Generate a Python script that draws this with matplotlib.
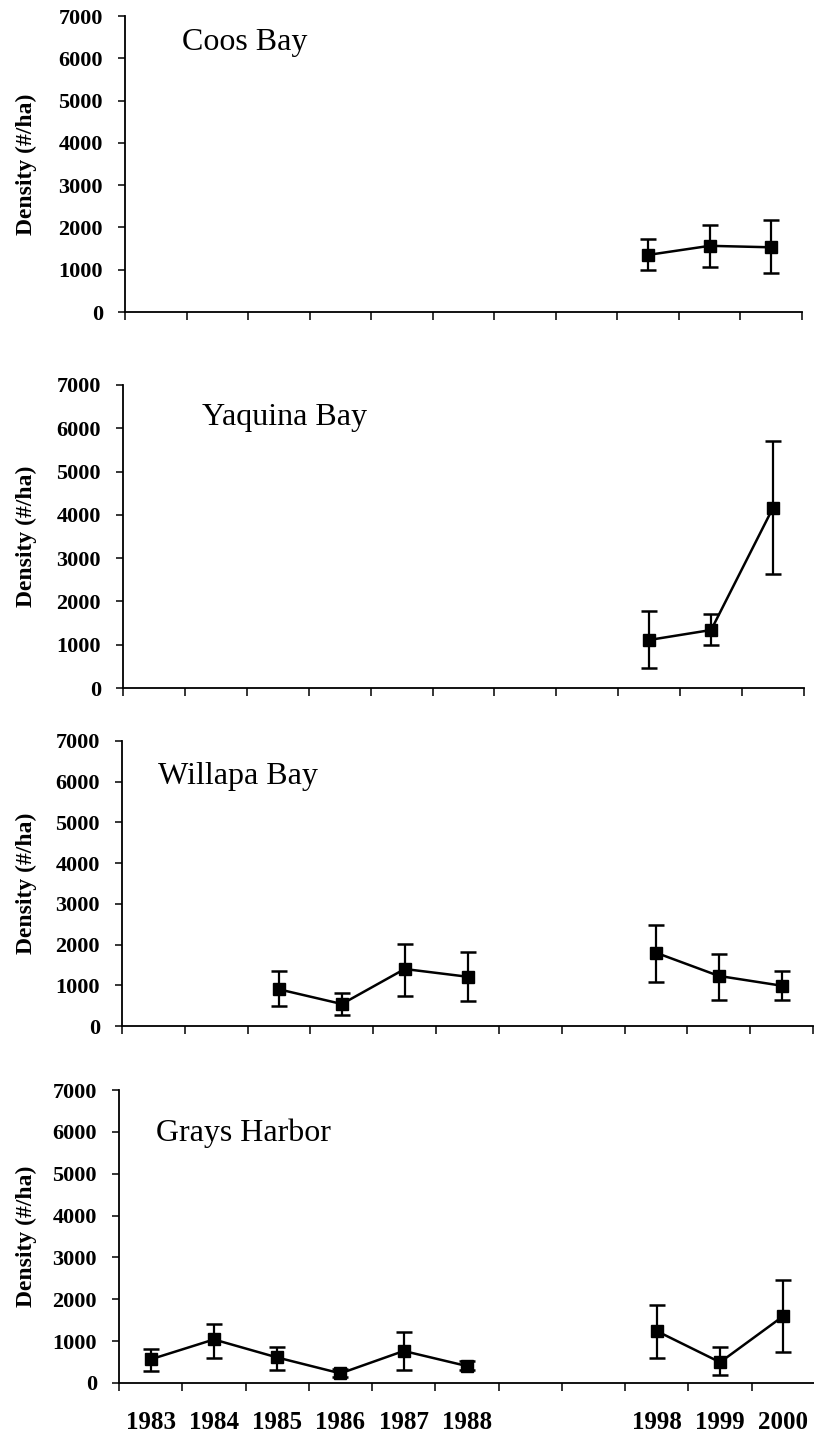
import numpy as np
import matplotlib
matplotlib.use("Agg")
import matplotlib.pyplot as plt

plt.rcParams['font.family'] = ['Liberation Serif', 'DejaVu Serif']

# category axis: 1983-1988, two empty slots, 1998-2000
categories = ['1983', '1984', '1985', '1986', '1987', '1988', '', '', '1998', '1999', '2000']

sites = ['Coos Bay', 'Yaquina Bay', 'Willapa Bay', 'Grays Harbor']

coos_years = ['1998', '1999', '2000']
coos_mean = [1350, 1565, 1530]
coos_low = [995, 1070, 930]
coos_high = [1725, 2050, 2175]

yaquina_years = ['1998', '1999', '2000']
yaquina_mean = [1110, 1340, 4165]
yaquina_low = [470, 995, 2630]
yaquina_high = [1775, 1710, 5700]

willapa_years = ['1985', '1986', '1987', '1988', '1998', '1999', '2000']
willapa_mean = [900, 540, 1400, 1210, 1800, 1230, 990]
willapa_low = [490, 270, 745, 620, 1090, 640, 640]
willapa_high = [1360, 800, 2005, 1825, 2480, 1760, 1360]

grays_years = ['1983', '1984', '1985', '1986', '1987', '1988', '1998', '1999', '2000']
grays_mean = [565, 1040, 610, 230, 765, 405, 1240, 495, 1600]
grays_low = [285, 590, 310, 150, 310, 310, 605, 190, 745]
grays_high = [810, 1410, 850, 325, 1225, 530, 1860, 850, 2460]

series = [
    (coos_years, coos_mean, coos_low, coos_high),
    (yaquina_years, yaquina_mean, yaquina_low, yaquina_high),
    (willapa_years, willapa_mean, willapa_low, willapa_high),
    (grays_years, grays_mean, grays_low, grays_high),
]

W, H = 814, 1435
fig = plt.figure(figsize=(W / 100, H / 100), dpi=100)

# axes boxes in pixels (left, right, top, bottom)
boxes = [(125, 802, 16, 312), (123, 804, 385, 688), (122, 813, 741, 1026), (119, 815, 1090, 1383)]
title_pos = [(182, 50), (202, 425), (158, 784), (156, 1141)]

for i, (site, (yrs, mean, low, high)) in enumerate(zip(sites, series)):
    l, r, t, b = boxes[i]
    ax = fig.add_axes([l / W, 1 - b / H, (r - l) / W, (b - t) / H])

    x = np.array([categories.index(y) for y in yrs])
    m = np.array(mean, dtype=float)
    lo = m - np.array(low)
    hi = np.array(high) - m

    ax.errorbar(x, m, yerr=[lo, hi], fmt='none', ecolor='black',
                elinewidth=1.6, capsize=6, capthick=1.8, zorder=2)
    # connect only consecutive sampling years
    breaks = np.where(np.diff(x) > 1)[0] + 1
    for seg in np.split(np.arange(len(x)), breaks):
        ax.plot(x[seg], m[seg], color='black', lw=1.8, marker='s',
                markersize=9, zorder=3)

    ax.set_xlim(-0.5, len(categories) - 0.5)
    ax.set_ylim(0, 7000)
    ax.set_yticks(np.arange(0, 7001, 1000))
    ax.set_xticks(np.arange(len(categories)))
    ax.set_xticks(np.arange(-0.5, len(categories)), minor=True)
    if i == 3:
        ax.set_xticklabels(categories, fontsize=18, fontweight='bold')
    else:
        ax.set_xticklabels([])
    ax.tick_params(axis='x', which='major', length=0, pad=20)
    ax.tick_params(axis='x', which='minor', length=6, width=1.1, direction='out')
    ax.tick_params(axis='y', length=5, width=1.1, direction='out', pad=11)
    for lab in ax.get_yticklabels():
        lab.set_fontsize(16)
        lab.set_fontweight('bold')

    for s in ['top', 'right']:
        ax.spines[s].set_visible(False)
    for s in ['left', 'bottom']:
        ax.spines[s].set_linewidth(1.3)

    tx, ty = title_pos[i]
    fig.text(tx / W, 1 - ty / H, site, fontsize=23, va='baseline', ha='left')
    fig.text(26 / W, 1 - (t + b) / 2 / H, 'Density (#/ha)', fontsize=17,
             fontweight='bold', rotation=90, ha='center', va='center')

fig.savefig('out.png', dpi=100)
